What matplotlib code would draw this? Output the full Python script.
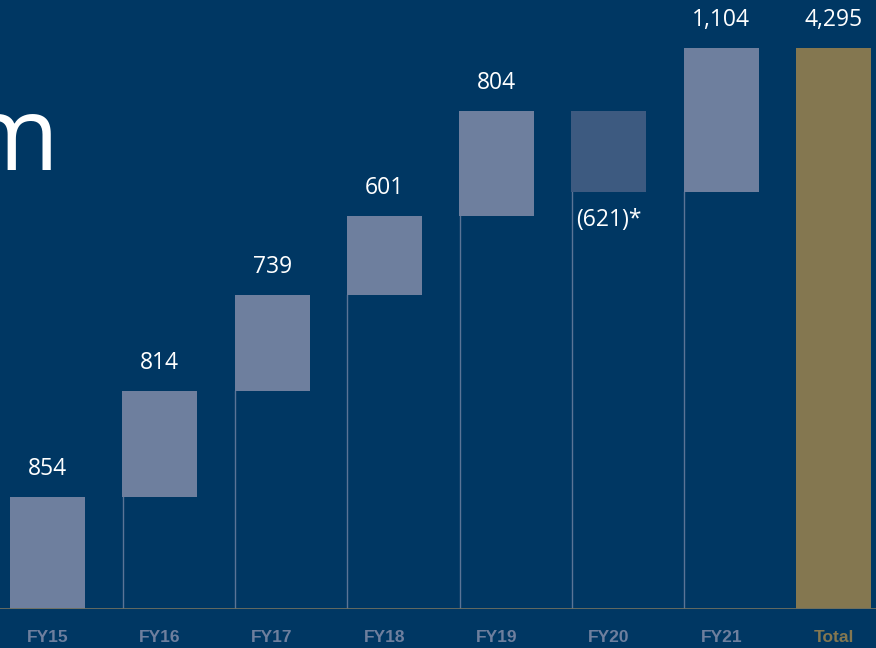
import numpy as np
import matplotlib
matplotlib.use("Agg")
import matplotlib.pyplot as plt

# data
years = ['FY15', 'FY16', 'FY17', 'FY18', 'FY19', 'FY20', 'FY21']
changes = [854, 814, 739, 601, 804, -621, 1104]
labels = ['854', '814', '739', '601', '804', '(621)*', '1,104']
total = 4295
total_label = '4,295'

bg = '#003763'
bar_col = '#6e7f9e'
neg_col = '#3d5a80'
gold = '#847750'
line_col = '#5b7496'

fig = plt.figure(figsize=(8.76, 6.48), dpi=100)
fig.patch.set_facecolor(bg)
ax = fig.add_axes([0, 0.0602, 1, 0.9398])
ax.set_facecolor(bg)

ends = np.cumsum(changes)
starts = ends - np.array(changes)
x = np.arange(len(years))
w = 0.668
lbl = dict(ha='center', va='center', color='white', fontsize=16.5,
           family='Open Sans')

for i, (s, e, c) in enumerate(zip(starts, ends, changes)):
    lo, hi = min(s, e), max(s, e)
    ax.bar(x[i], hi - lo, bottom=lo, width=w,
           color=neg_col if c < 0 else bar_col, zorder=2)
    if lo > 0:
        ax.plot([x[i] - w / 2 + 0.005] * 2, [0, lo], color=line_col, lw=1, zorder=1)
    if c >= 0:
        ax.text(x[i], hi + 215, labels[i], **lbl)
    else:
        ax.text(x[i], lo - 215, labels[i], **lbl)

xt = len(years)
ax.bar(xt, total, width=w, color=gold, zorder=2)
ax.text(xt, total + 215, total_label, **lbl)

ax.axhline(0, color='#6d6f60', lw=2, zorder=3)

ax.set_xlim(-0.423, 7.378)
ax.set_ylim(0, 4663)
ax.set_xticks(list(x) + [xt])
ax.set_xticklabels(years + ['Total'], fontsize=12.5, fontweight='bold',
                   family='Liberation Sans', color=bar_col)
ax.get_xticklabels()[-1].set_color(gold)
ax.tick_params(axis='x', length=0, pad=15)
ax.set_yticks([])
for sp in ax.spines.values():
    sp.set_visible(False)

fig.text(58 / 876, 1 - 170 / 648, 'm', ha='right', va='baseline',
         color='white', fontsize=74, family='Open Sans')

fig.savefig('out.png', dpi=100, facecolor=bg)
